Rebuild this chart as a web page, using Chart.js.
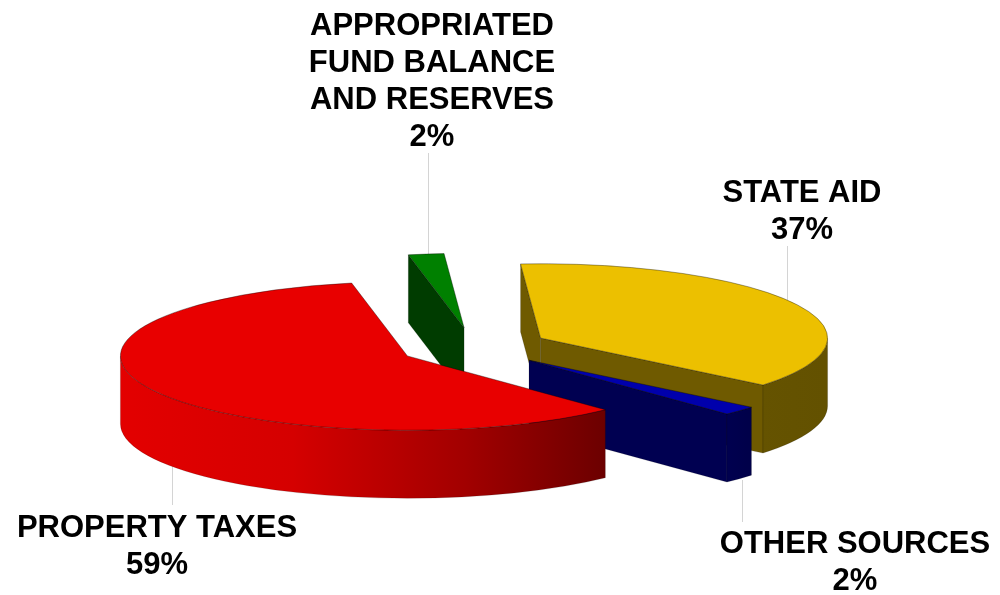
<!DOCTYPE html>
<html>
<head>
<meta charset="utf-8">
<script src="https://cdn.jsdelivr.net/npm/chart.js@4.4.1/dist/chart.umd.min.js"></script>
<style>
  html, body { margin: 0; padding: 0; background: #ffffff; }
  #wrap { width: 1000px; height: 595px; }
</style>
</head>
<body>
<div id="wrap"><canvas id="c" width="1000" height="595"></canvas></div>
<script>
// ---- data ----
const categories = [
  ['STATE AID'],
  ['OTHER SOURCES'],
  ['PROPERTY TAXES'],
  ['APPROPRIATED', 'FUND BALANCE', 'AND RESERVES']
];
const shares = [37, 2, 59, 2];

// ---- styles ----
const sliceColors = ['#ECC000', '#0000AC', '#E80000', '#008000'];
const TILT = 0.259;     // vertical flattening of the pie
const DEPTH = 68;       // thickness of the pie in px
const EXPLODE = 75;     // explode distance
const RADIUS = 287;
const labelLayout = [
  { x: 802, y: 202, lead: [787, 246, 300] },
  { x: 855, y: 553, lead: [742, 480, 522] },
  { x: 157, y: 537, lead: [172, 466, 505] },
  { x: 432, y: 35,  lead: [428, 153, 254] }
];
const FONT = 'bold 31px "Liberation Sans", Arial, Helvetica, sans-serif';
const LINE_STEP = 37;

function rgbOf(hex) {
  const h = hex.replace('#', '');
  return [parseInt(h.substr(0, 2), 16), parseInt(h.substr(2, 2), 16), parseInt(h.substr(4, 2), 16)];
}
function shade(hex, f) {
  const c = rgbOf(hex).map(v => Math.max(0, Math.min(255, Math.round(v * f))));
  return 'rgb(' + c[0] + ',' + c[1] + ',' + c[2] + ')';
}

const pie3d = {
  id: 'pie3d',
  beforeDatasetsDraw(chart) {
    const ctx = chart.ctx;
    const meta = chart.getDatasetMeta(0);
    const slices = meta.data.map((arc, i) => {
      const p = arc.getProps(['x', 'y', 'startAngle', 'endAngle', 'outerRadius'], true);
      const mid = (p.startAngle + p.endAngle) / 2;
      const d = arc.options.offset || 0;
      return {
        i, a0: p.startAngle, a1: p.endAngle, R: p.outerRadius,
        cx: p.x + d * Math.cos(mid),
        cy: p.y + d * Math.sin(mid) * TILT,
        color: arc.options.backgroundColor
      };
    });
    const pt = (s, a, z) => [s.cx + s.R * Math.cos(a), s.cy + s.R * Math.sin(a) * TILT + z];
    slices.forEach(s => {
      const ys = [s.cy, pt(s, s.a0, 0)[1], pt(s, s.a1, 0)[1]];
      for (let k = -2; k <= 2; k++) {
        const a = Math.PI / 2 + k * 2 * Math.PI;
        if (a > s.a0 && a < s.a1) ys.push(s.cy + s.R * TILT);
      }
      s.key = Math.max(...ys);
    });
    const order = slices.slice().sort((a, b) => a.key - b.key);

    // leader lines (under the pie)
    ctx.save();
    ctx.strokeStyle = '#d4d4d4';
    ctx.lineWidth = 1;
    labelLayout.forEach(l => {
      ctx.beginPath();
      ctx.moveTo(l.lead[0] + 0.5, l.lead[1]);
      ctx.lineTo(l.lead[0] + 0.5, l.lead[2]);
      ctx.stroke();
    });
    ctx.restore();

    const face = (s, a) => {
      const t = pt(s, a, 0), b = pt(s, a, DEPTH);
      ctx.beginPath();
      ctx.moveTo(s.cx, s.cy);
      ctx.lineTo(t[0], t[1]);
      ctx.lineTo(b[0], b[1]);
      ctx.lineTo(s.cx, s.cy + DEPTH);
      ctx.closePath();
      ctx.fillStyle = shade(s.color, 0.47);
      ctx.fill();
      ctx.strokeStyle = 'rgba(0,0,0,0.25)';
      ctx.lineWidth = 0.6;
      ctx.stroke();
    };

    // walls
    order.forEach(s => {
      ctx.save();
      if (Math.cos(s.a0) < 0) face(s, s.a0);
      if (Math.cos(s.a1) > 0) face(s, s.a1);
      for (let k = -1; k <= 1; k++) {
        const lo = Math.max(s.a0, k * 2 * Math.PI);
        const hi = Math.min(s.a1, k * 2 * Math.PI + Math.PI);
        if (hi > lo) {
          const ry = s.R * TILT;
          ctx.beginPath();
          ctx.ellipse(s.cx, s.cy, s.R, ry, 0, lo, hi, false);
          ctx.ellipse(s.cx, s.cy + DEPTH, s.R, ry, 0, hi, lo, true);
          ctx.closePath();
          const g = ctx.createLinearGradient(s.cx - s.R, 0, s.cx + s.R, 0);
          g.addColorStop(0, shade(s.color, 0.98));
          g.addColorStop(0.3, shade(s.color, 0.92));
          g.addColorStop(0.6, shade(s.color, 0.70));
          g.addColorStop(0.88, shade(s.color, 0.43));
          g.addColorStop(1, shade(s.color, 0.42));
          ctx.fillStyle = g;
          ctx.fill();
          ctx.strokeStyle = 'rgba(0,0,0,0.25)';
          ctx.lineWidth = 0.6;
          ctx.stroke();
        }
      }
      ctx.restore();
    });

    // top faces
    order.forEach(s => {
      ctx.save();
      ctx.beginPath();
      ctx.moveTo(s.cx, s.cy);
      ctx.ellipse(s.cx, s.cy, s.R, s.R * TILT, 0, s.a0, s.a1, false);
      ctx.closePath();
      ctx.fillStyle = s.color;
      ctx.fill();
      ctx.strokeStyle = 'rgba(0,0,0,0.45)';
      ctx.lineWidth = 0.8;
      ctx.stroke();
      ctx.restore();
    });

    // labels
    const total = shares.reduce((a, b) => a + b, 0);
    ctx.save();
    ctx.font = FONT;
    ctx.fillStyle = '#000000';
    ctx.textAlign = 'center';
    ctx.textBaseline = 'alphabetic';
    categories.forEach((lines, i) => {
      const l = labelLayout[i];
      const all = lines.concat([Math.round(shares[i] / total * 100) + '%']);
      all.forEach((txt, j) => ctx.fillText(txt, l.x, l.y + j * LINE_STEP));
    });
    ctx.restore();
    return false;
  }
};

new Chart(document.getElementById('c'), {
  type: 'pie',
  data: {
    labels: categories,
    datasets: [{
      data: shares,
      backgroundColor: sliceColors,
      offset: EXPLODE,
      borderWidth: 0
    }]
  },
  options: {
    responsive: false,
    animation: false,
    events: [],
    rotation: -4,
    radius: RADIUS,
    layout: { padding: { left: 0, right: 52, top: 99, bottom: 0 } },
    plugins: { legend: { display: false }, tooltip: { enabled: false } }
  },
  plugins: [pie3d]
});
</script>
</body>
</html>
